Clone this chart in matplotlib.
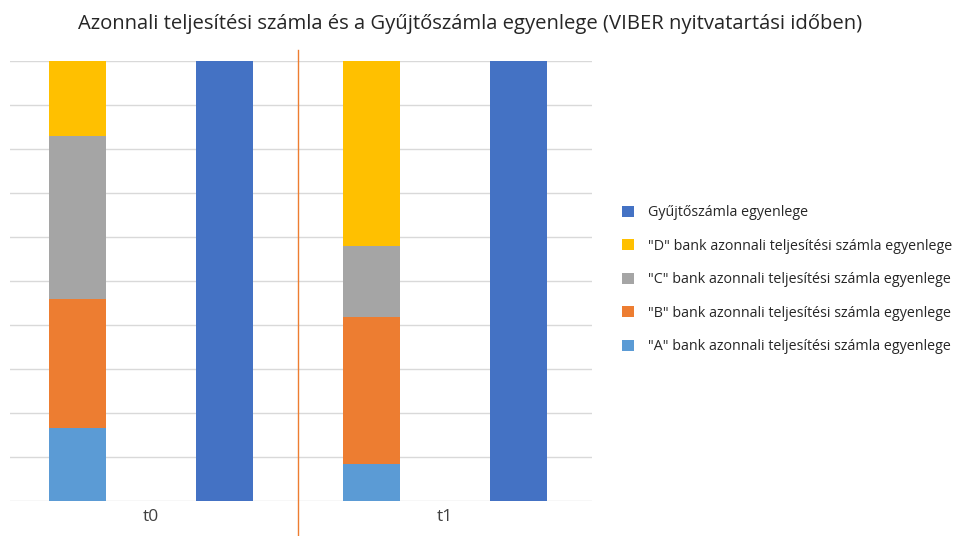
import numpy as np
import matplotlib.pyplot as plt
from matplotlib.patches import Patch

plt.rcParams['font.family'] = ['Open Sans', 'DejaVu Sans']

# adatok (becsült értékek a képről, 0-10 skála)
groups = ["t0", "t1"]
bank_a = [1.67, 0.83]
bank_b = [2.91, 3.36]
bank_c = [3.72, 1.61]
bank_d = [1.70, 4.20]
gyujto = [10.0, 10.0]

labels = [
    "Gyűjtőszámla egyenlege",
    '"D" bank azonnali teljesítési számla egyenlege',
    '"C" bank azonnali teljesítési számla egyenlege',
    '"B" bank azonnali teljesítési számla egyenlege',
    '"A" bank azonnali teljesítési számla egyenlege',
]
colors = ["#4472C4", "#FFC000", "#A5A5A5", "#ED7D31", "#5B9BD5"]

fig = plt.figure(figsize=(9.64, 5.36), dpi=100)
ax = fig.add_axes([0.0104, 0.0653, 0.6037, 0.8209])

stack_x = np.array([0, 2])
gy_x = np.array([1, 3])
w = 0.39

bottom = np.zeros(2)
for vals, c in zip([bank_a, bank_b, bank_c, bank_d], colors[::-1][:4]):
    ax.bar(stack_x, vals, w, bottom=bottom, color=c, zorder=2)
    bottom += np.array(vals)
ax.bar(gy_x, gyujto, w, color=colors[0], zorder=2)

ax.set_xlim(-0.46, 3.5)
ax.set_ylim(0, 10)
ax.set_yticks(np.arange(0, 11, 1))
ax.yaxis.grid(True, color="#D9D9D9", linewidth=1, zorder=0)
ax.tick_params(axis="y", length=0, labelleft=False)
ax.set_xticks([0.5, 2.5])
ax.set_xticklabels(groups, fontsize=12.5, color="#404040")
ax.tick_params(axis="x", length=0, pad=6)
for s in ax.spines.values():
    s.set_visible(False)

# elválasztó vonal
ax.plot([1.5, 1.5], [-0.8, 10.25], color="#ED7D31", linewidth=1, clip_on=False, zorder=3)

fig.text(0.488, 0.955, "Azonnali teljesítési számla és a Gyűjtőszámla egyenlege (VIBER nyitvatartási időben)",
         ha="center", va="center", fontsize=14.6, color="#262626")

handles = [Patch(facecolor=c, edgecolor="none") for c in colors]
fig.legend(handles, labels, loc="center left", bbox_to_anchor=(0.632, 0.478),
           frameon=False, fontsize=10.3, handlelength=0.8, handleheight=0.8,
           labelspacing=1.3, handletextpad=1.0, labelcolor="#262626")

fig.savefig("out.png", dpi=100)
